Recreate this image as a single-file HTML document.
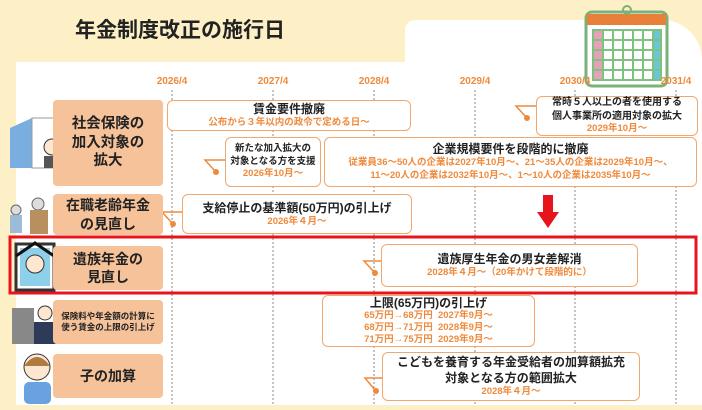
<!DOCTYPE html>
<html><head><meta charset="utf-8"><style>
*{margin:0;padding:0;box-sizing:border-box}
body{width:702px;height:410px;overflow:hidden;background:#fdf0c6;font-family:"Liberation Sans","Noto Sans CJK JP",sans-serif;position:relative}
.a{position:absolute}
.cat{position:absolute;left:53px;width:110px;background:#f6c29a;border-radius:4px;display:flex;align-items:center;justify-content:center;text-align:center;font-weight:bold;color:#222;font-size:14px;line-height:1.3}
.box{position:absolute;background:#fff;border:1.5px solid #f3a76c;border-radius:6px;text-align:center;font-weight:bold;color:#222;font-size:11px;line-height:1.35;display:flex;flex-direction:column;justify-content:center}
.o{color:#ef8a3c;font-size:9.5px}
.yr{position:absolute;top:76px;color:#ef8a3c;font-size:10px;font-weight:bold;width:50px;text-align:center}
</style></head><body>
<div class="a" style="left:16px;top:62px;width:686px;height:343px;background:#fff"></div>
<div class="a" style="left:405px;top:20px;width:297px;height:50px;background:#fff;border-radius:10px 40px 0 0"></div>
<div class="a" style="left:75px;top:14px;font-size:21px;font-weight:bold;color:#222">年金制度改正の施行日</div>
<svg class="a" style="left:0;top:0" width="702" height="410">
<rect x="586" y="12" width="81" height="74" rx="6" fill="#fff" stroke="#7ab27a" stroke-width="3"/>
<rect x="587" y="14" width="79" height="11" fill="#e8803a"/>
<circle cx="627" cy="10" r="4" fill="none" stroke="#7ab27a" stroke-width="2"/>
<rect x="592" y="29" width="70" height="52" fill="#7dc27d"/>
<g id="row">
<rect x="594" y="31" width="8" height="8" fill="#e8a0b8"/><rect x="604" y="31" width="8" height="8" fill="#fff"/><rect x="614" y="31" width="8" height="8" fill="#fff"/><rect x="624" y="31" width="8" height="8" fill="#fff"/><rect x="634" y="31" width="8" height="8" fill="#fff"/><rect x="644" y="31" width="8" height="8" fill="#fff"/><rect x="654" y="31" width="6" height="8" fill="#6cc4d8"/>
</g>
<use href="#row" y="10"/><use href="#row" y="20"/><use href="#row" y="30"/><use href="#row" y="40"/>
<g stroke="#888" stroke-width="1" stroke-dasharray="2,2">
<line x1="172" y1="90" x2="172" y2="405"/><line x1="273" y1="90" x2="273" y2="405"/><line x1="374" y1="90" x2="374" y2="405"/><line x1="475" y1="90" x2="475" y2="405"/><line x1="575" y1="90" x2="575" y2="405"/><line x1="676" y1="90" x2="676" y2="405"/>
</g>
<g stroke="#ef8a3c" stroke-width="1.5" fill="none">
<polyline points="536,106 516,106 526,117"/>
<polyline points="225,160 205,160 215,171"/>
<polyline points="182,212 162,212 172,223"/>
<polyline points="381,261 364,261 374,272"/>
<polyline points="382,378 365,378 375,390"/>
</g>
<g fill="#ef8a3c"><circle cx="527" cy="118" r="3"/><circle cx="216" cy="172" r="3"/><circle cx="173" cy="224" r="3"/><circle cx="375" cy="273" r="3"/><circle cx="376" cy="391" r="3"/></g>
<rect x="543" y="195" width="10" height="18" fill="#e8141c"/><polygon points="537,212 559,212 548,228" fill="#e8141c"/>
<polygon points="10,128 32,118 32,168 10,168" fill="#7aaee0"/>
<rect x="32" y="118" width="24" height="50" fill="#fff" stroke="#999"/>
<circle cx="52" cy="147" r="8" fill="#fde7d0" stroke="#333"/><rect x="44" y="156" width="18" height="12" fill="#555"/>
<circle cx="38" cy="204" r="6" fill="#ddd" stroke="#666"/><rect x="30" y="210" width="18" height="24" fill="#b89060"/>
<circle cx="16" cy="210" r="5" fill="#ddd" stroke="#666"/><rect x="10" y="215" width="12" height="18" fill="#9bbbd8"/>
<rect x="16" y="244" width="38" height="46" fill="#fff" stroke="#333" stroke-width="3"/><rect x="20" y="248" width="30" height="38" fill="#8cd0ea"/><circle cx="35" cy="264" r="9" fill="#fde7d0" stroke="#333"/><polyline points="16,256 35,243 54,256" stroke="#111" stroke-width="3" fill="none"/>
<rect x="12" y="308" width="22" height="36" fill="#888"/><circle cx="45" cy="313" r="7" fill="#fde7d0" stroke="#333"/><rect x="34" y="322" width="22" height="22" fill="#2d3a5a"/>
<circle cx="37" cy="367" r="13" fill="#fde7d0" stroke="#333"/><path d="M24 366 Q37 348 50 366" fill="#b07a40"/><rect x="24" y="382" width="27" height="22" rx="5" fill="#6aa2e0"/>
<rect x="10" y="237" width="686" height="56" fill="none" stroke="#e8141c" stroke-width="3"/>
</svg>
<div class="yr" style="left:147px">2026/4</div><div class="yr" style="left:248px">2027/4</div><div class="yr" style="left:349px">2028/4</div><div class="yr" style="left:450px">2029/4</div><div class="yr" style="left:550px">2030/4</div><div class="yr" style="left:651px">2031/4</div>
<div class="cat" style="top:100px;height:86px;font-size:14.5px">社会保険の<br>加入対象の<br>拡大</div>
<div class="cat" style="top:194px;height:41px">在職老齢年金<br>の見直し</div>
<div class="cat" style="top:246px;height:44px">遺族年金の<br>見直し</div>
<div class="cat" style="top:300px;height:44px;font-size:8.5px">保険料や年金額の計算に<br>使う賃金の上限の引上げ</div>
<div class="cat" style="top:354px;height:44px">子の加算</div>
<div class="box" style="left:167px;top:100px;width:244px;height:31px;font-size:12px">賃金要件撤廃<span class="o">公布から３年以内の政令で定める日～</span></div>
<div class="box" style="left:536px;top:96px;width:162px;height:40px;font-size:10px">常時５人以上の者を使用する<br>個人事業所の適用対象の拡大<span class="o">2029年10月～</span></div>
<div class="box" style="left:225px;top:137px;width:96px;height:50px;font-size:9.5px">新たな加入拡大の<br>対象となる方を支援<span class="o">2026年10月～</span></div>
<div class="box" style="left:324px;top:137px;width:373px;height:50px;font-size:12px">企業規模要件を段階的に撤廃<span class="o" style="font-size:9.5px">従業員36～50人の企業は2027年10月～、21～35人の企業は2029年10月～、<br>11～20人の企業は2032年10月～、1～10人の企業は2035年10月～</span></div>
<div class="box" style="left:182px;top:194px;width:230px;height:40px;font-size:12px">支給停止の基準額(50万円)の引上げ<span class="o">2026年４月～</span></div>
<div class="box" style="left:381px;top:244px;width:257px;height:43px;font-size:12px">遺族厚生年金の男女差解消<span class="o">2028年４月～（20年かけて段階的に）</span></div>
<div class="box" style="left:322px;top:295px;width:213px;height:52px;font-size:12px;line-height:1.2">上限(65万円)の引上げ<span class="o" style="line-height:1.25">65万円→68万円&nbsp; 2027年9月～<br>68万円→71万円&nbsp; 2028年9月～<br>71万円→75万円&nbsp; 2029年9月～</span></div>
<div class="box" style="left:382px;top:352px;width:258px;height:49px;font-size:12px">こどもを養育する年金受給者の加算額拡充<br>対象となる方の範囲拡大<span class="o">2028年４月～</span></div>
</body></html>
